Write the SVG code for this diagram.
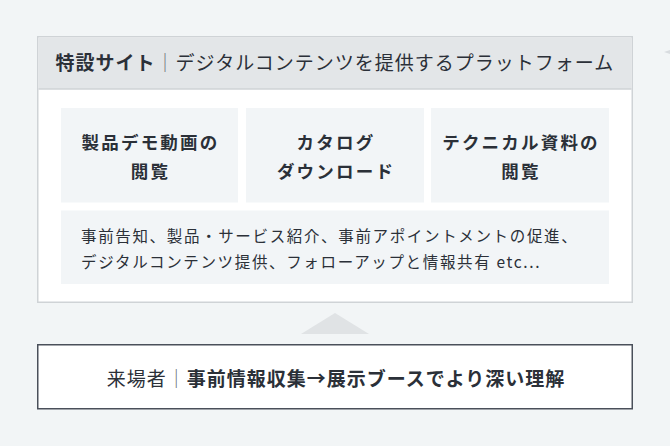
<svg xmlns="http://www.w3.org/2000/svg" width="670" height="446" viewBox="0 0 670 446">
  <style>
    text { font-family: "Noto Sans CJK JP", "Noto Sans", "Liberation Sans", sans-serif; fill: #2b3038; }
    .tile { fill: #f2f5f7; }
    .tt { font-size: 17.5px; font-weight: 700; letter-spacing: 2.2px; text-anchor: middle; }
    .wt { font-size: 15.5px; letter-spacing: 1.65px; }
    .bar { fill: #6a7079; }
  </style>
  <rect x="0" y="0" width="670" height="446" fill="#f2f5f6"/>
  <polygon points="664,52 670,50 670,54" fill="#d8dcdf"/>

  <g id="site">
    <rect x="37.75" y="36.75" width="594.5" height="265.5" fill="#ffffff" stroke="#cfd3d6" stroke-width="1.5"/>
    <rect x="38.5" y="37.5" width="593" height="51.5" fill="#e3e6e8"/>
    <line x1="38.5" y1="89" x2="631.5" y2="89" stroke="#cfd3d6" stroke-width="1.5"/>
    <text x="55.5" y="70" font-size="19" letter-spacing="1"><tspan font-weight="700">特設サイト</tspan><tspan class="bar">｜</tspan>デジタルコンテンツを提供するプラットフォーム</text>
  </g>

  <g id="tile-demo">
    <rect class="tile" x="61" y="108" width="177" height="94.5"/>
    <text class="tt" x="150.5" y="149">製品デモ動画の</text>
    <text class="tt" x="150.5" y="178">閲覧</text>
  </g>
  <g id="tile-catalog">
    <rect class="tile" x="246" y="108" width="178" height="94.5"/>
    <text class="tt" x="336" y="149">カタログ</text>
    <text class="tt" x="336" y="178">ダウンロード</text>
  </g>
  <g id="tile-tech">
    <rect class="tile" x="431" y="108" width="178" height="94.5"/>
    <text class="tt" x="521" y="149">テクニカル資料の</text>
    <text class="tt" x="521" y="178">閲覧</text>
  </g>
  <g id="tile-summary">
    <rect class="tile" x="61" y="210.5" width="548" height="73.5"/>
    <text class="wt" x="81" y="242">事前告知、製品・サービス紹介、事前アポイントメントの促進、</text>
    <text class="wt" x="81" y="268">デジタルコンテンツ提供、フォローアップと情報共有 etc...</text>
  </g>

  <g id="connectors">
    <polygon points="301,334 335,313 369,334" fill="#e0e3e5"/>
  </g>

  <g id="visitor">
    <rect x="37.75" y="344.75" width="594.5" height="64" fill="#ffffff" stroke="#4a505a" stroke-width="1.5"/>
    <text x="336" y="386" font-size="19" letter-spacing="1" text-anchor="middle">来場者<tspan class="bar">｜</tspan><tspan font-weight="700">事前情報収集→展示ブースでより深い理解</tspan></text>
  </g>
</svg>
